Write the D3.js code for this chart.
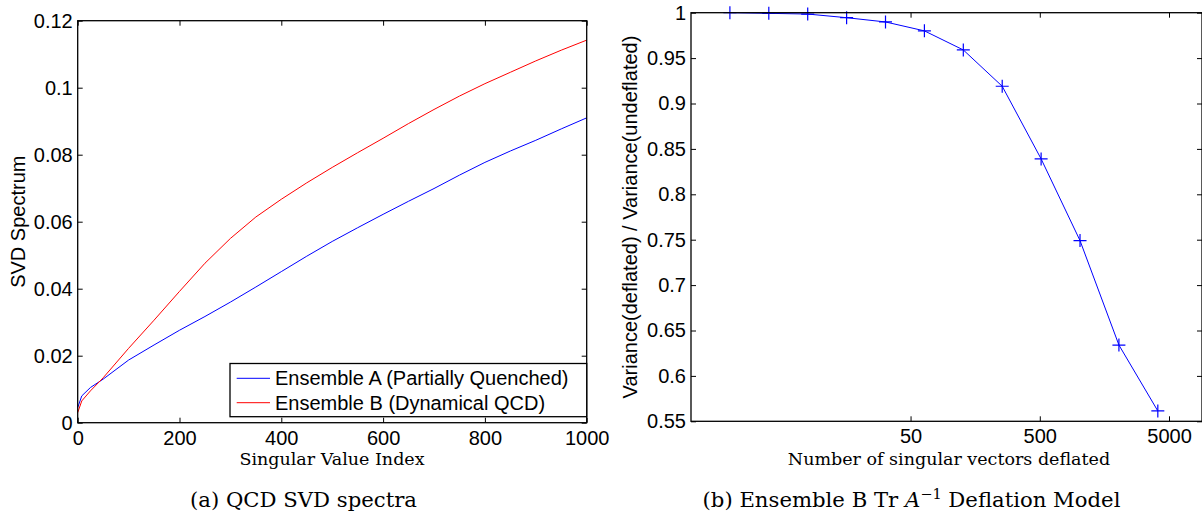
<!DOCTYPE html>
<html>
<head>
<meta charset="utf-8">
<script src="https://cdn.jsdelivr.net/npm/d3@7"></script>
<style>
body { margin: 0; background: #fff; }
</style>
</head>
<body>
<script>
// (a) SVD spectra
const svIndex = [0, 8, 25, 50, 100, 150, 200, 250, 300, 350, 400, 450, 500,
    550, 600, 650, 700, 750, 800, 850, 900, 950, 1000];
const ensembleA = [0.0045, 0.0080, 0.0105, 0.0130, 0.0187, 0.0232, 0.0276, 0.0317,
    0.0360, 0.0405, 0.0451, 0.0497, 0.0541, 0.0582, 0.0622, 0.0661, 0.0699,
    0.0739, 0.0777, 0.0811, 0.0843, 0.0877, 0.0910];
const ensembleB = [0.0030, 0.0065, 0.0095, 0.0134, 0.0222, 0.0306, 0.0392, 0.0476,
    0.0550, 0.0614, 0.0667, 0.0716, 0.0762, 0.0806, 0.0849, 0.0893, 0.0935,
    0.0975, 0.1012, 0.1046, 0.1080, 0.1112, 0.1142];
const svTicksX = [0, 200, 400, 600, 800, 1000];
const svTicksY = [0, 0.02, 0.04, 0.06, 0.08, 0.1, 0.12];
const seriesNames = ["Ensemble A (Partially Quenched)", "Ensemble B (Dynamical QCD)"];

// (b) deflation model
const deflated = [2, 4, 8, 16, 32, 64, 128, 256, 512, 1024, 2048, 4096];
const varianceRatio = [1.000, 0.9993, 0.9985, 0.9945, 0.9898, 0.9800, 0.9590,
    0.9190, 0.8390, 0.7490, 0.6340, 0.5614];
const deflTicksX = [50, 500, 5000];
const deflTicksY = [0.55, 0.6, 0.65, 0.7, 0.75, 0.8, 0.85, 0.9, 0.95, 1];

const sans = "'Liberation Sans', Arial, sans-serif";
const serif = "'DejaVu Serif', serif";
const fontSize = 20;
const tick = 5;

const svg = d3.select("body").append("svg")
    .attr("width", 1202)
    .attr("height", 512)
    .style("font-family", sans);

function drawAxes(x, y, xTicks, yTicks) {
    const [x0, x1] = x.range();
    const [y0, y1] = y.range();
    const style = g => {
        g.select(".domain").remove();
        g.selectAll("text")
            .attr("font-size", fontSize)
            .attr("font-family", sans)
            .attr("fill", "#000");
        g.selectAll("line").attr("stroke", "#000");
    };
    svg.append("g")
        .attr("transform", `translate(0,${y0})`)
        .call(d3.axisBottom(x).tickValues(xTicks).tickFormat(String)
            .tickSizeInner(-tick).tickSizeOuter(0).tickPadding(8))
        .call(style);
    svg.append("g")
        .attr("transform", `translate(0,${y1})`)
        .call(d3.axisTop(x).tickValues(xTicks).tickFormat("")
            .tickSizeInner(-tick).tickSizeOuter(0))
        .call(style);
    svg.append("g")
        .attr("transform", `translate(${x0},0)`)
        .call(d3.axisLeft(y).tickValues(yTicks).tickFormat(String)
            .tickSizeInner(-tick).tickSizeOuter(0).tickPadding(5))
        .call(style);
    svg.append("g")
        .attr("transform", `translate(${x1},0)`)
        .call(d3.axisRight(y).tickValues(yTicks).tickFormat("")
            .tickSizeInner(-tick).tickSizeOuter(0))
        .call(style);
    svg.append("rect")
        .attr("x", x0).attr("y", y1)
        .attr("width", x1 - x0).attr("height", y0 - y1)
        .attr("fill", "none")
        .attr("stroke", "#000")
        .attr("stroke-width", 1.3);
}

// ---- panel (a)
const xa = d3.scaleLinear().domain([0, 1000]).range([77.7, 586.7]);
const ya = d3.scaleLinear().domain([0, 0.12]).range([422.7, 20.7]);

const lineA = d3.line().x((d, i) => xa(svIndex[i])).y(d => ya(d));
svg.append("path").datum(ensembleA)
    .attr("d", lineA).attr("fill", "none").attr("stroke", "#0000ff").attr("stroke-width", 1);
svg.append("path").datum(ensembleB)
    .attr("d", lineA).attr("fill", "none").attr("stroke", "#ff0000").attr("stroke-width", 1);

drawAxes(xa, ya, svTicksX, svTicksY);

const legend = svg.append("g");
legend.append("rect")
    .attr("x", 230).attr("y", 363.5)
    .attr("width", 356.7).attr("height", 53.2)
    .attr("fill", "#fff").attr("stroke", "#000").attr("stroke-width", 1.3);
seriesNames.forEach((name, i) => {
    const ly = 378.3 + i * 24.4;
    legend.append("line")
        .attr("x1", 236.7).attr("x2", 270).attr("y1", ly).attr("y2", ly)
        .attr("stroke", i === 0 ? "#0000ff" : "#ff0000").attr("stroke-width", 1);
    legend.append("text")
        .attr("x", 275).attr("y", ly).attr("dy", "0.35em")
        .attr("font-size", fontSize)
        .text(name);
});

svg.append("text")
    .attr("transform", "translate(25,221.7) rotate(-90)")
    .attr("text-anchor", "middle")
    .attr("font-size", fontSize)
    .text("SVD Spectrum");
svg.append("text")
    .attr("x", 332).attr("y", 464.5)
    .attr("text-anchor", "middle")
    .attr("font-family", serif).attr("font-size", 17.5)
    .text("Singular Value Index");
svg.append("text")
    .attr("x", 303.5).attr("y", 507)
    .attr("text-anchor", "middle")
    .attr("font-family", serif).attr("font-size", 21.2)
    .text("(a) QCD SVD spectra");

// ---- panel (b)
const xb = d3.scaleLog().domain([1, 9000]).range([691, 1202]);
const yb = d3.scaleLinear().domain([0.55, 1]).range([421.3, 12.7]);

svg.append("path").datum(varianceRatio)
    .attr("d", d3.line().x((d, i) => xb(deflated[i])).y(d => yb(d)))
    .attr("fill", "none").attr("stroke", "#0000ff").attr("stroke-width", 1);
svg.append("g").selectAll("path")
    .data(varianceRatio)
    .join("path")
    .attr("transform", (d, i) => `translate(${xb(deflated[i])},${yb(d)})`)
    .attr("d", "M-6.5,0H6.5M0,-6.5V6.5")
    .attr("stroke", "#0000ff").attr("stroke-width", 1.2).attr("fill", "none");

drawAxes(xb, yb, deflTicksX, deflTicksY);

svg.append("text")
    .attr("transform", "translate(637,217) rotate(-90)")
    .attr("text-anchor", "middle")
    .attr("font-size", fontSize)
    .text("Variance(deflated) / Variance(undeflated)");
svg.append("text")
    .attr("x", 949).attr("y", 464.5)
    .attr("text-anchor", "middle")
    .attr("font-family", serif).attr("font-size", 17.5)
    .text("Number of singular vectors deflated");

const cap = svg.append("text")
    .attr("x", 911.5).attr("y", 507)
    .attr("text-anchor", "middle")
    .attr("font-family", serif).attr("font-size", 21.2);
cap.append("tspan").text("(b) Ensemble B Tr ");
cap.append("tspan").attr("font-style", "italic").text("A");
cap.append("tspan").attr("dy", -8).attr("font-size", 14.5).text("\u22121");
cap.append("tspan").attr("dy", 8).text(" Deflation Model");
</script>
</body>
</html>
